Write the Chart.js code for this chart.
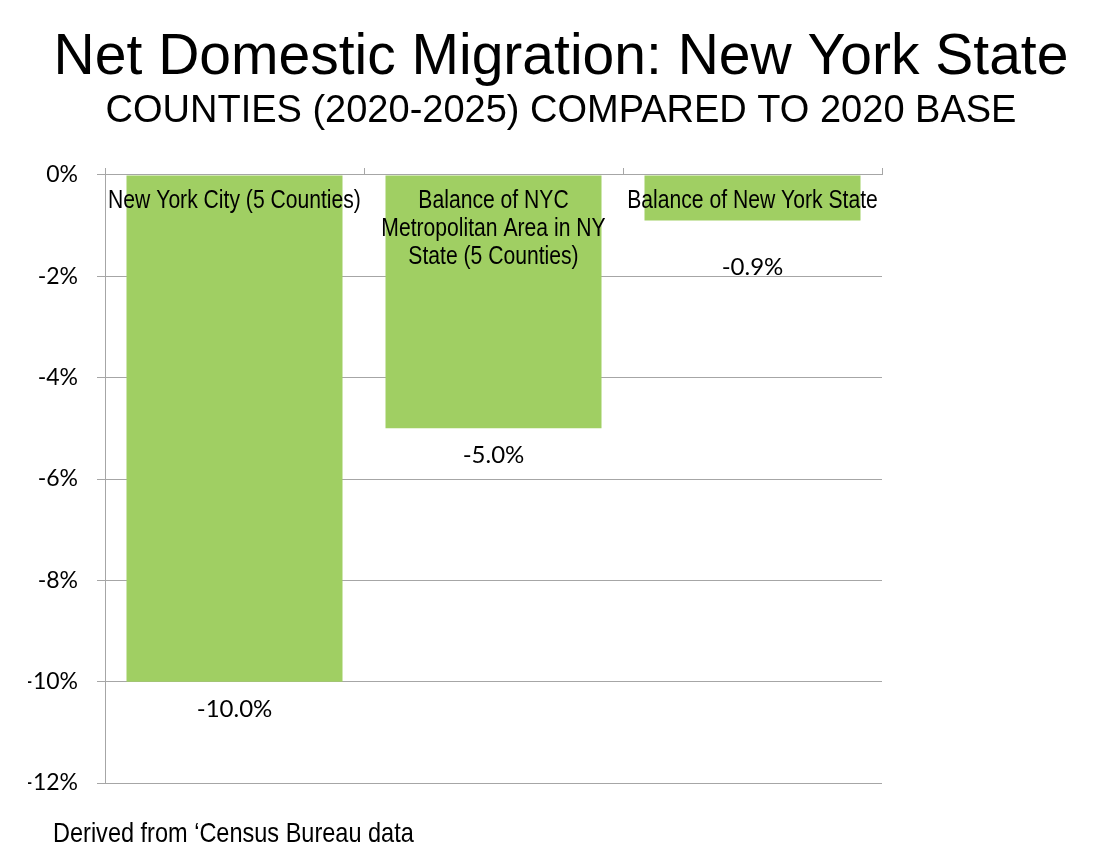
<!DOCTYPE html>
<html>
<head>
<meta charset="utf-8">
<title>Net Domestic Migration: New York State</title>
<script src="https://cdn.jsdelivr.net/npm/chart.js@4.4.1/dist/chart.umd.min.js"></script>
<style>
  html, body { margin: 0; padding: 0; background: #fff; }
  #wrap { width: 1094px; height: 864px; }
</style>
</head>
<body>
<div id="wrap"><canvas id="myChart" width="1094" height="864"></canvas></div>
<script>
// Categories (one line per array entry)
const categories = [
  ["New York City (5 Counties)"],
  ["Balance of NYC", "Metropolitan Area in NY", "State (5 Counties)"],
  ["Balance of New York State"]
];

// Net domestic migration, % of 2020 base
const netMigration = [-10.0, -5.0, -0.9];

// Y axis tick values
const yTicks = [0, -2, -4, -6, -8, -10, -12];

const gridColor = "#a6a6a6";
const barColor = "#a0cf63";
const sansFont = '"Liberation Sans", Arial, sans-serif';

// narrow text: squeeze regular sans horizontally
const fillNarrow = (ctx, text, x, y, squeeze) => {
  ctx.fillText(text, x, y, ctx.measureText(text).width * squeeze);
};

// Labels drawn inside / under the bars
const barLabels = {
  id: "barLabels",
  afterDatasetsDraw(chart, args, opts) {
    const ctx = chart.ctx;
    const meta = chart.getDatasetMeta(0);
    meta.data.forEach((bar, i) => {
      ctx.save();
      ctx.fillStyle = "#000";
      ctx.textAlign = "center";
      ctx.textBaseline = "alphabetic";
      ctx.font = "25px " + sansFont;
      chart.data.labels[i].forEach((line, j) => {
        fillNarrow(ctx, line, bar.x, bar.base + opts.nameTop + j * opts.lineGap, 0.845);
      });
      ctx.font = "24px Lato";
      ctx.fillText(netMigration[i].toFixed(1) + "%", bar.x, bar.y + opts.valueGap[i]);
      ctx.restore();
    });
  }
};

// Source note at the bottom
const sourceNote = {
  id: "sourceNote",
  afterDraw(chart, args, opts) {
    const ctx = chart.ctx;
    ctx.save();
    ctx.fillStyle = "#000";
    ctx.font = "28px " + sansFont;
    ctx.textAlign = "left";
    ctx.textBaseline = "alphabetic";
    fillNarrow(ctx, opts.text, opts.x, opts.y, 0.84);
    ctx.restore();
  }
};

const ctx = document.getElementById("myChart").getContext("2d");
const myChart = new Chart(ctx, {
  type: "bar",
  data: {
    labels: categories,
    datasets: [{
      data: netMigration,
      backgroundColor: barColor,
      borderWidth: 0,
      barPercentage: 0.834,
      categoryPercentage: 1
    }]
  },
  options: {
    responsive: false,
    animation: false,
    devicePixelRatio: 1,
    layout: { padding: { left: 28, right: 0, top: 0, bottom: 81 } },
    plugins: {
      legend: { display: false },
      tooltip: { enabled: false },
      title: {
        display: true,
        text: "Net Domestic Migration: New York State",
        color: "#000",
        font: { family: "Liberation Sans", size: 57, weight: "normal", lineHeight: 1.2 },
        padding: { top: 24, bottom: 0 }
      },
      subtitle: {
        display: true,
        text: "COUNTIES (2020-2025) COMPARED TO 2020 BASE",
        color: "#000",
        font: { family: "Liberation Sans", size: 38, weight: "normal", lineHeight: 1.0 },
        padding: { top: 0, bottom: 0 }
      },
      barLabels: { nameTop: 32, lineGap: 28, valueGap: [35, 35, 54] },
      sourceNote: { text: "Derived from \u2018Census Bureau data", x: 53, y: 842 }
    },
    scales: {
      x: {
        position: "top",
        grid: {
          offset: true,
          drawOnChartArea: false,
          color: gridColor,
          tickLength: 7
        },
        border: { display: true, color: gridColor },
        ticks: { display: false },
        afterFit(scale) { scale.height = 44.6; }
      },
      y: {
        min: yTicks[yTicks.length - 1],
        max: yTicks[0],
        afterBuildTicks(scale) {
          scale.ticks = yTicks.map(v => ({ value: v }));
        },
        grid: { color: gridColor, tickLength: 8 },
        border: { display: true, color: gridColor },
        ticks: {
          color: "#000",
          padding: 19,
          font: { family: "Lato", size: 23 },
          callback: v => v + "%"
        },
        afterFit(scale) { scale.width = 77; }
      },
      // empty right-hand strip so the plot ends where the reference does
      spacer: {
        type: "linear",
        position: "right",
        grid: { display: false, drawTicks: false },
        border: { display: false },
        ticks: { display: false },
        afterFit(scale) { scale.width = 212; }
      }
    }
  },
  plugins: [barLabels, sourceNote]
});
</script>
</body>
</html>
